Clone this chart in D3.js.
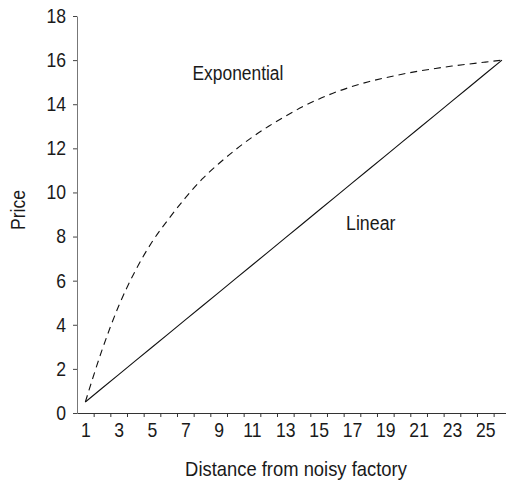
<!DOCTYPE html>
<html>
<head>
<meta charset="utf-8">
<script src="https://cdn.jsdelivr.net/npm/d3@7/dist/d3.min.js"></script>
<style>
  html, body { margin: 0; padding: 0; background: #fff; }
  svg { display: block; }
  text { font-family: "Liberation Sans", Arial, sans-serif; fill: #1a1a1a; }
</style>
</head>
<body>
<svg id="chart" width="506" height="486"></svg>
<script>
// Distance categories along the x axis
const distances = d3.range(1, 27);
const xTickLabels = [1, 3, 5, 7, 9, 11, 13, 15, 17, 19, 21, 23, 25];
const yTicks = [0, 2, 4, 6, 8, 10, 12, 14, 16, 18];

// Price under the linear model
const linearPrice = [0.5, 1.12, 1.74, 2.36, 2.98, 3.6, 4.22, 4.84, 5.46, 6.08, 6.7, 7.32, 7.94,
  8.56, 9.18, 9.8, 10.42, 11.04, 11.66, 12.28, 12.9, 13.52, 14.14, 14.76, 15.38, 16];

// Price under the exponential model
const exponentialPrice = [0.5, 2.85, 4.85, 6.45, 7.75, 8.8, 9.75, 10.6, 11.3, 11.93, 12.5, 13.0, 13.45,
  13.87, 14.23, 14.54, 14.8, 15.02, 15.2, 15.36, 15.5, 15.62, 15.73, 15.82, 15.91, 16];

const svg = d3.select("#chart");
const FONT = "20px";

// Narrow the glyphs horizontally while keeping each label anchored in place
function condense(sel, s) {
  sel.each(function () {
    const t = d3.select(this);
    const xv = +t.attr("x") || 0;
    t.attr("x", xv / s).attr("transform", `scale(${s},1)`);
  });
}

const x = d3.scaleLinear().domain([0.5, 26.5]).range([77, 510.3]);
const y = d3.scaleLinear().domain([0, 18]).range([413, 16]);

// Y axis
const yAxis = svg.append("g")
  .attr("transform", `translate(${x(0.5)},0)`)
  .call(d3.axisLeft(y).tickValues(yTicks).tickSize(4).tickSizeOuter(0).tickPadding(7));
yAxis.select(".domain").attr("stroke", "#777");
yAxis.selectAll(".tick line").attr("stroke", "#444");
yAxis.selectAll(".tick text").style("font-size", FONT).style("font-family", null).attr("fill", "#1a1a1a")
  .call(condense, 0.88);

// X axis: tick marks sit between categories, labels centred on every other category
const xAxis = svg.append("g")
  .attr("transform", `translate(0,${y(0)})`)
  .call(d3.axisBottom(x).tickValues(d3.range(1.5, 27, 1)).tickFormat("").tickSize(4).tickSizeOuter(0));
xAxis.select(".domain").attr("stroke", "#333");
xAxis.selectAll(".tick line").attr("stroke", "#333");

const xLabels = svg.append("g")
  .attr("transform", `translate(0,${y(0)})`)
  .call(d3.axisBottom(x).tickValues(xTickLabels).tickSize(0).tickPadding(10));
xLabels.select(".domain").remove();
xLabels.selectAll(".tick text").style("font-size", FONT).attr("fill", "#1a1a1a")
  .call(condense, 0.88);

// Series lines
const line = d3.line().x((d, i) => x(distances[i])).y(d => y(d));

svg.append("path")
  .datum(linearPrice)
  .attr("fill", "none")
  .attr("stroke", "#111")
  .attr("stroke-width", 1.1)
  .attr("d", line);

svg.append("path")
  .datum(exponentialPrice)
  .attr("fill", "none")
  .attr("stroke", "#111")
  .attr("stroke-width", 1.1)
  .attr("stroke-dasharray", "7,5")
  .attr("d", line.curve(d3.curveMonotoneX));

// Series labels
svg.append("text").attr("x", 192.5).attr("y", 80).style("font-size", FONT).text("Exponential")
  .call(condense, 0.87);
svg.append("text").attr("x", 346).attr("y", 230.5).style("font-size", FONT).text("Linear")
  .call(condense, 0.89);

// Axis titles
svg.append("text")
  .attr("transform", "translate(25,210) rotate(-90) scale(0.88,1)")
  .attr("text-anchor", "middle")
  .style("font-size", FONT)
  .text("Price");
svg.append("text")
  .attr("x", 296).attr("y", 476.5)
  .attr("text-anchor", "middle")
  .style("font-size", FONT)
  .text("Distance from noisy factory")
  .call(condense, 0.92);
</script>
</body>
</html>
